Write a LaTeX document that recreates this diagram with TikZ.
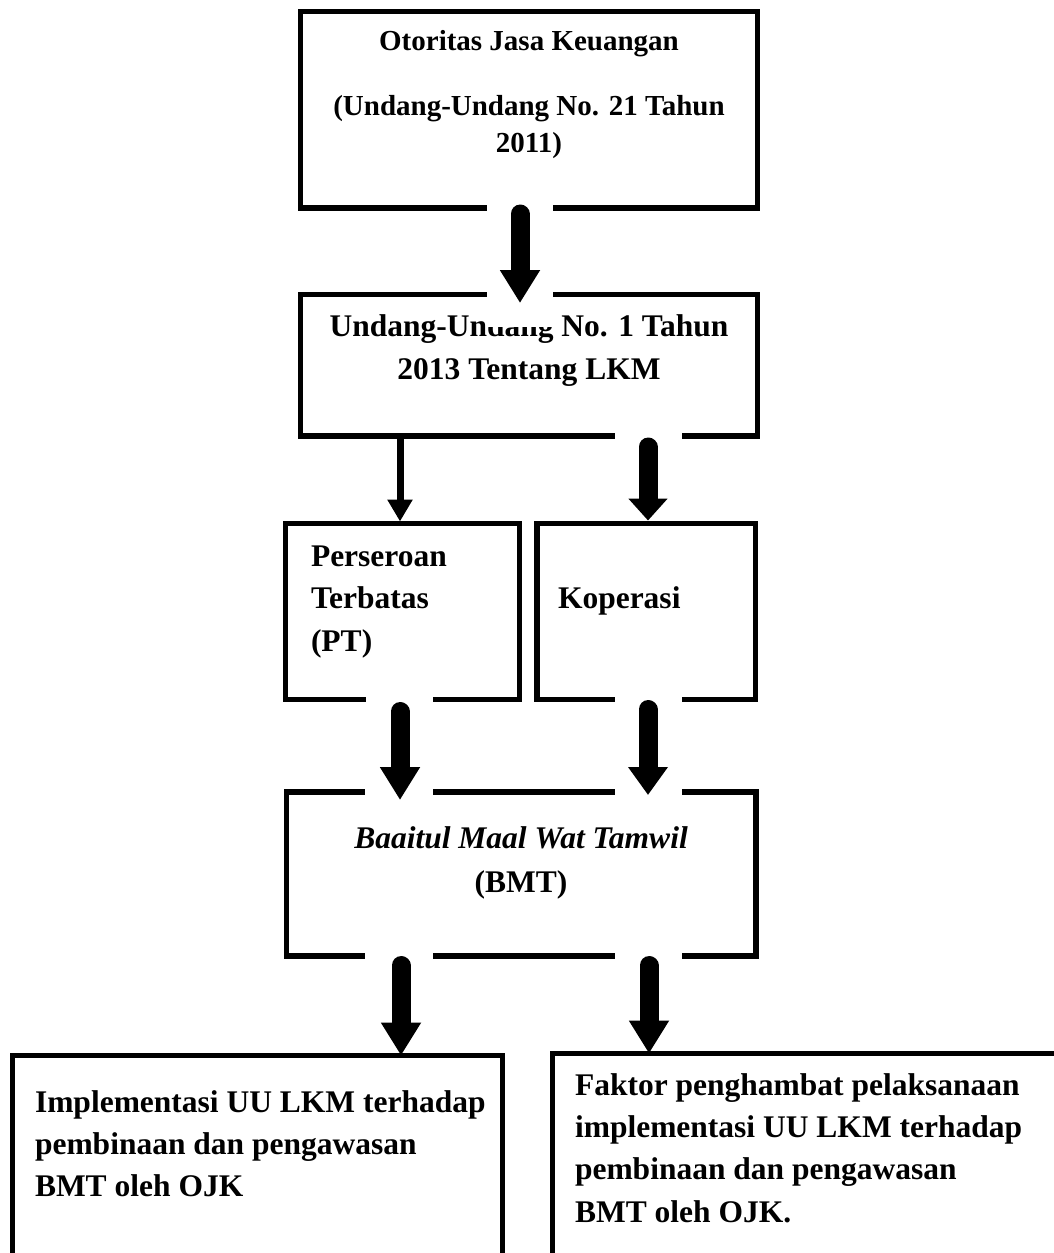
\documentclass[tikz,border=0pt]{standalone}
\usepackage{fontspec}
\setmainfont{Liberation Serif}
\usetikzlibrary{arrows.meta,calc}
\begin{document}
\begin{tikzpicture}[x=1pt,y=-1pt,
  boxst/.style={draw=black, line width=5.5pt, rectangle, inner sep=0pt, outer sep=0pt},
  txt/.style={inner sep=0pt, outer sep=0pt, font=\bfseries\fontsize{31.5}{42.5}\selectfont},
  txtsmall/.style={inner sep=0pt, outer sep=0pt, font=\bfseries\fontsize{29}{37}\selectfont},
  bigarr/.style={line width=19pt, line cap=round, -{Triangle[width=38pt,length=#1]}},
  thinarr/.style={line width=7pt, -{Triangle[width=24pt,length=22pt]}},
  gapfill/.style={fill=white, draw=none}]
\useasboundingbox (0,0) rectangle (1054,1253);
\clip (0,0) rectangle (1054,1253);
\fill[white] (0,0) rectangle (1054,1253);

% boxes
\node[boxst, minimum width=457pt, minimum height=196.5pt] (ojk) at (529,109.75) {};
\node[boxst, minimum width=457pt, minimum height=141.5pt] (uu) at (529,365.25) {};
\node[boxst, minimum width=234pt, minimum height=176pt] (pt) at (402.5,611.5) {};
\node[boxst, minimum width=218.5pt, minimum height=176pt] (kop) at (646.25,611.5) {};
\node[boxst, minimum width=469.5pt, minimum height=164pt] (bmt) at (521.25,874) {};
\node[boxst, minimum width=490pt, minimum height=244.5pt] (impl) at (257.5,1177.75) {};
\node[boxst, minimum width=547.5pt, minimum height=246.5pt] (fak) at (826.25,1176.75) {};

% texts (anchored at the baseline of their last line)
\node[txtsmall, align=center, anchor=base] (tojk) at (529,152)
  {Otoritas Jasa Keuangan\\[28pt](Undang-Undang No. 21 Tahun\\2011)};
\node[txt, align=center, anchor=base] (tuu) at (529,379)
  {Undang-Undang No. 1 Tahun\\2013 Tentang LKM};
\node[txt, align=left, anchor=base west] (tpt) at (311,651)
  {Perseroan\\Terbatas\\(PT)};
\node[txt, anchor=base west] (tkop) at (558,608) {Koperasi};
\node[txt, align=center, anchor=base] (tbmt) at (521,892)
  {\textit{Baaitul Maal Wat Tamwil}\\[1.5pt](BMT)};
\node[txt, align=left, anchor=base west, font=\bfseries\fontsize{31.5}{42}\selectfont] (timpl) at (35,1196)
  {Implementasi UU LKM terhadap\\pembinaan dan pengawasan\\BMT oleh OJK};
\node[txt, align=left, anchor=base west, font=\bfseries\fontsize{31.5}{42.3}\selectfont] (tfak) at (575,1222)
  {Faktor penghambat pelaksanaan\\implementasi UU LKM terhadap\\pembinaan dan pengawasan\\BMT oleh OJK.};

% white gaps around the arrows
\fill[gapfill] (487,200) rectangle (553,216);
\fill[gapfill] (487,287) rectangle (553,327);
\fill[gapfill] (615,430) rectangle (682,442);
\fill[gapfill] (366,693) rectangle (433,706);
\fill[gapfill] (615,693) rectangle (682,706);
\fill[gapfill] (365,786) rectangle (433,798);
\fill[gapfill] (615,786) rectangle (682,798);
\fill[gapfill] (365,950) rectangle (433,962);
\fill[gapfill] (615,950) rectangle (682,962);

% connectors
\draw[bigarr=33pt] ([shift={(-9,6)}]ojk.south) -- ([shift={(-9,8.5)}]uu.north);
\draw[thinarr] ([shift={(-129,0)}]uu.south) -- ([shift={(-2.5,-2)}]pt.north);
\draw[bigarr=22pt] ([shift={(119,11)}]uu.south) -- ([shift={(1.75,-3)}]kop.north);
\draw[bigarr=33pt] ([shift={(-2.5,12)}]pt.south) -- ([shift={(-121.25,8)}]bmt.north);
\draw[bigarr=28pt] ([shift={(1.75,10)}]kop.south) -- ([shift={(126.75,3)}]bmt.north);
\draw[bigarr=33pt] ([shift={(-120.25,9.5)}]bmt.south) -- ([shift={(143.5,0)}]impl.north);
\draw[bigarr=33pt] ([shift={(127.75,9.5)}]bmt.south) -- ([shift={(-177.25,0)}]fak.north);
\end{tikzpicture}
\end{document}
